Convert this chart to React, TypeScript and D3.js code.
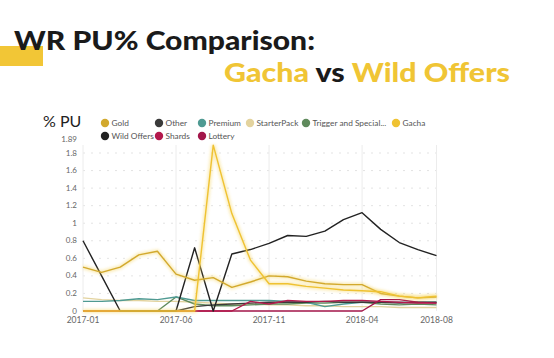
import React from 'react';
import * as d3 from 'd3';

const months = ['2017-01','2017-02','2017-03','2017-04','2017-05','2017-06','2017-07','2017-08','2017-09','2017-10','2017-11','2017-12','2018-01','2018-02','2018-03','2018-04','2018-05','2018-06','2018-07','2018-08'];
const tickLabels = ['2017-01','2017-06','2017-11','2018-04','2018-08'];
const yTicks = [0, 0.2, 0.4, 0.6, 0.8, 1, 1.2, 1.4, 1.6, 1.8, 1.89];

const gold = [0.50,0.44,0.50,0.64,0.68,0.42,0.35,0.38,0.27,0.33,0.40,0.39,0.34,0.31,0.30,0.30,0.20,0.17,0.15,0.16];
const gacha = [0,0,0,0,0,0,0,1.89,1.11,0.58,0.31,0.31,0.28,0.26,0.24,0.23,0.22,0.17,0.15,0.17];
const wildOffers = [0.80,0.40,0,0,0,0,0.72,0,0.65,0.70,0.77,0.86,0.85,0.91,1.04,1.12,0.93,0.78,0.70,0.63];
const premium = [0.11,0.11,0.12,0.14,0.13,0.16,0.12,0.12,0.12,0.12,0.12,0.11,0.10,0.05,0.08,0.10,0.10,0.10,0.10,0.10];
const starterPack = [0.15,0.13,0.12,0.12,0.11,0.11,0.10,0.09,0.08,0.08,0.07,0.07,0.06,0.06,0.05,0.05,0.05,0.04,0.04,0.04];
const trigger = [0,0,0,0,0,0.16,0.08,0.06,0.06,0.07,0.08,0.08,0.09,0.09,0.10,0.10,0.08,0.07,0.08,0.07];
const other = [0,0,0,0,0,0,0.05,0.07,0.08,0.09,0.10,0.10,0.10,0.11,0.10,0.10,0.10,0.09,0.10,0.10];
const shards = [0,0,0,0,0,0,0,0,0,0.11,0.08,0.12,0.11,0.11,0.12,0.12,0.11,0.10,0.09,0.09];
const lottery = [0,0,0,0,0,0,0,0,0,0,0,0,0,0,0,0,0.13,0.13,0.10,0.09];

const seriesNames = ['Gold','Other','Premium','StarterPack','Trigger and Special...','Gacha','Wild Offers','Shards','Lottery'];
const seriesColors = ['#d2a92e','#3a3a3a','#4f9a92','#e3d39e','#5f8a5c','#efc232','#222222','#b3194c','#a3164a'];
const seriesValues = [gold, other, premium, starterPack, trigger, gacha, wildOffers, shards, lottery];

const W = 554, H = 358;

export default function App() {
  const x = d3.scalePoint<string>().domain(months).range([83, 436.5]);
  const y = d3.scaleLinear().domain([0, 1.8]).range([311, 153]);
  const line = d3.line<number>().x((_, i) => x(months[i]) as number).y(d => y(d));

  const legendCols = [105, 159, 202, 250, 306, 396];
  const legendPos = seriesNames.map((_, i) => {
    if (i < 6) return { cx: legendCols[i], cy: 123 };
    return { cx: legendCols[i - 6], cy: 136 };
  });

  const drawOrder = [3, 4, 2, 1, 8, 7, 6, 0, 5];
  const glow = new Set([0, 5]);

  return (
    <svg width={W} height={H} style={{ position: 'absolute', left: 0, top: 0, background: '#fff' }}>
      <defs>
        <filter id="blur" x="-20%" y="-20%" width="140%" height="140%">
          <feGaussianBlur stdDeviation="1.5" />
        </filter>
      </defs>
      {/* title */}
      <rect x={0} y={46} width={43} height={20} fill="#f2c636" />
      <text x={14} y={50} fontFamily="Lato" fontWeight={900} fontSize={26} fill="#1a1a1a" textLength={301} lengthAdjust="spacingAndGlyphs">WR PU% Comparison:</text>
      <text x={224} y={82} fontFamily="Lato" fontWeight={900} fontSize={26} textLength={286} lengthAdjust="spacingAndGlyphs">
        <tspan fill="#f0c535">Gacha</tspan>
        <tspan fill="#1a1a1a"> vs </tspan>
        <tspan fill="#f0c535">Wild Offers</tspan>
      </text>

      {/* % PU */}
      <line x1={40} x2={86} y1={128} y2={128} stroke="#f2c636" strokeWidth={3} opacity={0.6} filter="url(#blur)" />
      <text x={43} y={127} fontFamily="Lato" fontSize={16} fill="#222">% PU</text>

      {/* legend */}
      {seriesNames.map((n, i) => (
        <g key={n}>
          <circle cx={legendPos[i].cx} cy={legendPos[i].cy} r={4.2} fill={seriesColors[i]} />
          <text x={legendPos[i].cx + 6.5} y={legendPos[i].cy + 3} fontFamily="Lato" fontSize={8.3} fill="#555">{n}</text>
        </g>
      ))}

      {/* gridlines */}
      {yTicks.slice(1, -1).map(t => (
        <line key={t} x1={83} x2={437} y1={y(t)} y2={y(t)} stroke="#dcdcdc" strokeWidth={0.8} strokeDasharray="2,6" />
      ))}
      {tickLabels.slice(1).map(t => (
        <line key={t} x1={x(t)} x2={x(t)} y1={145} y2={311} stroke="#ececec" strokeWidth={1} />
      ))}
      <line x1={83} x2={83} y1={145} y2={311} stroke="#ececec" strokeWidth={1} />

      {/* y labels */}
      {yTicks.map(t => (
        <text key={t} x={77} y={y(t) + 2.5 - (t === 1.89 ? 6 : 0)} textAnchor="end" fontFamily="Lato" fontSize={8} fill="#666">{String(t)}</text>
      ))}
      {/* x labels */}
      {tickLabels.map(t => (
        <text key={t} x={x(t)} y={323} textAnchor="middle" fontFamily="Lato" fontSize={8.5} fill="#666">{t}</text>
      ))}

      {/* lines */}
      {drawOrder.map(i => (
        <g key={seriesNames[i]}>
          {glow.has(i) && (
            <path d={line(seriesValues[i]) || ''} fill="none" stroke="#f5d35a" strokeWidth={4} opacity={0.45} filter="url(#blur)" />
          )}
          <path d={line(seriesValues[i]) || ''} fill="none" stroke={seriesColors[i]} strokeWidth={1.4} strokeLinejoin="round" />
        </g>
      ))}
    </svg>
  );
}
